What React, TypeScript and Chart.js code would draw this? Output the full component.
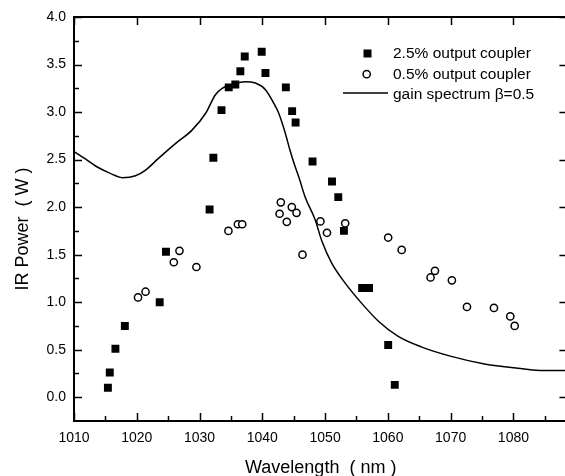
import React, { useEffect, useRef } from "react";
import { Chart, registerables } from "chart.js";

Chart.register(...registerables);

// ---- data ----
const xTickValues = [1010, 1020, 1030, 1040, 1050, 1060, 1070, 1080];
const xMinorValues = [1015, 1025, 1035, 1045, 1055, 1065, 1075, 1085];
const yTickValues = [0, 0.5, 1.0, 1.5, 2.0, 2.5, 3.0, 3.5, 4.0];
const yMinorValues = [0.25, 0.75, 1.25, 1.75, 2.25, 2.75, 3.25, 3.75];

const coupler25X = [
  1015.4, 1015.7, 1016.6, 1018.1, 1023.65, 1024.65, 1031.6, 1032.2, 1033.5,
  1034.65, 1035.7, 1036.5, 1037.2, 1039.9, 1040.5, 1043.75, 1044.75, 1045.3,
  1048.0, 1051.1, 1052.1, 1053.0, 1055.9, 1057.0, 1060.05, 1061.1,
];
const coupler25Y = [
  0.1, 0.26, 0.51, 0.75, 1.0, 1.53, 1.975, 2.52, 3.02, 3.26, 3.29, 3.43, 3.585,
  3.635, 3.41, 3.26, 3.01, 2.89, 2.48, 2.27, 2.105, 1.75, 1.15, 1.15, 0.55, 0.13,
];

const coupler05X = [
  1020.2, 1021.4, 1025.9, 1026.8, 1029.5, 1034.6, 1036.1, 1036.8, 1042.75,
  1042.95, 1043.9, 1044.7, 1045.45, 1046.4, 1049.25, 1050.3, 1053.2, 1060.05,
  1062.2, 1066.8, 1067.5, 1070.2, 1072.6, 1076.9, 1079.5, 1080.2,
];
const coupler05Y = [
  1.05, 1.11, 1.42, 1.54, 1.37, 1.75, 1.82, 1.82, 1.93, 2.05, 1.845, 2.0, 1.94,
  1.5, 1.85, 1.73, 1.83, 1.68, 1.55, 1.26, 1.33, 1.23, 0.95, 0.94, 0.85, 0.75,
];

const gainX = [
  1010.0, 1011.5, 1013.5, 1015.6, 1017.7, 1019.8, 1021.4, 1023.5, 1026.2,
  1028.8, 1031.0, 1032.5, 1033.6, 1035.2, 1037.3, 1038.9, 1040.5, 1041.8,
  1042.6, 1043.65, 1044.4, 1045.1, 1045.8, 1046.8, 1048.4, 1049.5, 1051.05,
  1053.2, 1055.8, 1058.5, 1061.65, 1065.3, 1070.1, 1075.4, 1080.7, 1084.9,
  1088.6,
];
const gainY = [
  2.585, 2.52, 2.43, 2.36, 2.31, 2.33, 2.39, 2.515, 2.67, 2.81, 2.99, 3.18,
  3.25, 3.29, 3.32, 3.305, 3.235, 3.095, 2.99, 2.78, 2.6, 2.45, 2.32, 2.11,
  1.87, 1.64, 1.41, 1.2, 0.99, 0.8, 0.64, 0.53, 0.43, 0.35, 0.305, 0.28, 0.28,
];

const seriesLabels = [
  "2.5% output coupler",
  "0.5% output coupler",
  "gain spectrum \u03B2=0.5",
];
const xTitle = "Wavelength  ( nm )";
const yTitle = "IR Power  ( W )";

const X_MIN = 1010;
const X_MAX = 1088.6;
const Y_MIN = -0.25;
const Y_MAX = 4.0;

const FONT = "'Liberation Sans', Arial, Helvetica, sans-serif";

const zip = (xs: number[], ys: number[]) => xs.map((x, i) => ({ x, y: ys[i] }));

const framePlugin = {
  id: "frameAndLegend",
  afterDatasetsDraw(chart: any) {
    const { ctx, chartArea: a, scales } = chart;
    const xs = scales.x;
    const ys = scales.y;
    ctx.save();
    ctx.strokeStyle = "#000";
    ctx.lineWidth = 2;
    ctx.strokeRect(a.left, a.top, a.right - a.left, a.bottom - a.top);

    ctx.lineWidth = 1.5;
    ctx.beginPath();
    xTickValues.forEach((v) => {
      const px = Math.round(xs.getPixelForValue(v)) + 0.5;
      ctx.moveTo(px, a.bottom);
      ctx.lineTo(px, a.bottom - 8);
      ctx.moveTo(px, a.top);
      ctx.lineTo(px, a.top + 8);
    });
    xMinorValues.forEach((v) => {
      const px = Math.round(xs.getPixelForValue(v)) + 0.5;
      ctx.moveTo(px, a.bottom);
      ctx.lineTo(px, a.bottom - 5);
    });
    yTickValues.forEach((v) => {
      const py = Math.round(ys.getPixelForValue(v)) + 0.5;
      ctx.moveTo(a.left, py);
      ctx.lineTo(a.left + 8, py);
      ctx.moveTo(a.right, py);
      ctx.lineTo(a.right - 8, py);
    });
    yMinorValues.forEach((v) => {
      const py = Math.round(ys.getPixelForValue(v)) + 0.5;
      ctx.moveTo(a.left, py);
      ctx.lineTo(a.left + 5, py);
    });
    ctx.stroke();

    // legend
    const tx = 393;
    const rows = [53.5, 74.5, 95];
    ctx.fillStyle = "#000";
    ctx.fillRect(363.5, 49.5, 8, 8);
    ctx.beginPath();
    ctx.lineWidth = 1.5;
    ctx.arc(366.7, 74.2, 3.6, 0, Math.PI * 2);
    ctx.fillStyle = "#fff";
    ctx.fill();
    ctx.stroke();
    ctx.beginPath();
    ctx.lineWidth = 1.5;
    ctx.moveTo(343, 93);
    ctx.lineTo(388, 93);
    ctx.stroke();
    ctx.fillStyle = "#000";
    ctx.font = `15.5px ${FONT}`;
    ctx.textBaseline = "middle";
    ctx.textAlign = "left";
    seriesLabels.forEach((t, i) => ctx.fillText(t, tx, rows[i]));
    ctx.restore();
  },
};

export default function App() {
  const ref = useRef<HTMLCanvasElement | null>(null);

  useEffect(() => {
    if (!ref.current) return;
    const chart = new Chart(ref.current, {
      type: "scatter",
      data: {
        datasets: [
          {
            label: seriesLabels[0],
            data: zip(coupler25X, coupler25Y),
            pointStyle: "rect",
            pointRadius: 5.6,
            borderWidth: 0,
            backgroundColor: "#000",
            borderColor: "#000",
          },
          {
            label: seriesLabels[1],
            data: zip(coupler05X, coupler05Y),
            pointStyle: "circle",
            pointRadius: 3.6,
            borderWidth: 1.5,
            backgroundColor: "#fff",
            borderColor: "#000",
          },
          {
            label: seriesLabels[2],
            data: zip(gainX, gainY),
            showLine: true,
            pointRadius: 0,
            borderWidth: 1.5,
            borderColor: "#000",
            backgroundColor: "#000",
            cubicInterpolationMode: "monotone",
          } as any,
        ],
      },
      options: {
        responsive: false,
        maintainAspectRatio: false,
        devicePixelRatio: 1,
        animation: false,
        layout: { padding: { top: 17, right: 3, left: 0, bottom: 0 } },
        plugins: { legend: { display: false }, tooltip: { enabled: false } },
        scales: {
          x: {
            type: "linear",
            min: X_MIN,
            max: X_MAX,
            afterBuildTicks: (s: any) => {
              s.ticks = xTickValues.map((v) => ({ value: v }));
            },
            afterFit: (s: any) => {
              s.height = 55;
            },
            grid: { display: true, drawOnChartArea: false, drawTicks: false },
            border: { display: false },
            ticks: {
              color: "#000",
              padding: 9,
              maxRotation: 0,
              autoSkip: false,
              font: { family: FONT, size: 14 },
              callback: (v: any) => String(v),
            },
            title: {
              display: true,
              text: xTitle,
              color: "#000",
              font: { family: FONT, size: 18, lineHeight: 1 },
              padding: { top: 0, bottom: -1 },
            },
          },
          y: {
            type: "linear",
            min: Y_MIN,
            max: Y_MAX,
            afterBuildTicks: (s: any) => {
              s.ticks = yTickValues.map((v) => ({ value: v }));
            },
            afterFit: (s: any) => {
              s.width = 74;
            },
            grid: { display: true, drawOnChartArea: false, drawTicks: false },
            border: { display: false },
            ticks: {
              color: "#000",
              padding: 8,
              autoSkip: false,
              font: { family: FONT, size: 14 },
              callback: (v: any) => Number(v).toFixed(1),
            },
            title: {
              display: true,
              text: yTitle + "    ",
              color: "#000",
              font: { family: FONT, size: 18, lineHeight: 1 },
              padding: { top: 14, bottom: 0 },
            },
          },
        },
      },
      plugins: [framePlugin],
    });
    return () => chart.destroy();
  }, []);

  return (
    <div
      style={{
        position: "absolute",
        left: 0,
        top: 0,
        width: 565,
        height: 476,
        overflow: "hidden",
        background: "#fff",
      }}
    >
      <canvas ref={ref} width={573} height={476} style={{ display: "block" }} />
    </div>
  );
}
